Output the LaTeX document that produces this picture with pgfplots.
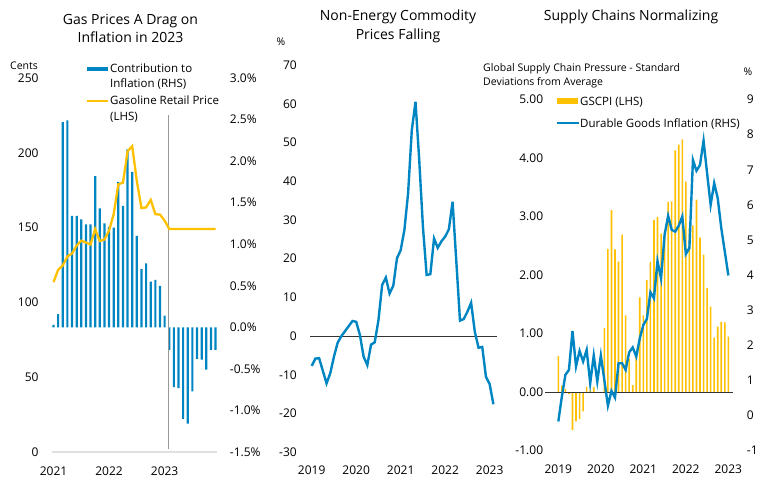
\documentclass[border=0pt]{standalone}
\usepackage{fontspec}
\setmainfont{Open Sans}
\usepackage{pgfplots}
\pgfplotsset{compat=1.18}
\definecolor{cblue}{RGB}{0,133,195}
\definecolor{cgold}{RGB}{255,192,0}
\pgfplotsset{mybase/.style={scale only axis, anchor=south west, clip=false,
  axis line style={draw=none}, tick style={draw=none}, major tick length=0pt,
  every tick label/.append style={font=\fontsize{12}{14}\selectfont, inner sep=0pt, text=black}}}
\begin{document}
\begin{tikzpicture}[x=1pt,y=1pt]
\path[use as bounding box] (0,0) rectangle (767,482);

% ---------------- Panel 1 : bars (RHS) ----------------
\begin{axis}[mybase, at={(51.7pt,30pt)}, width=165pt, height=374pt,
  xmin=-0.39, xmax=35.25, ymin=-1.5, ymax=3.0, xtick=\empty,
  ytick={-1.5,-1,-0.5,0,0.5,1,1.5,2,2.5,3},
  yticklabels={-1.5\%,-1.0\%,-0.5\%,0.0\%,0.5\%,1.0\%,1.5\%,2.0\%,2.5\%,3.0\%},
  yticklabel pos=right, yticklabel style={anchor=west, xshift=13pt}]
\addplot[ybar, bar width=2.2pt, fill=cblue, draw=none] coordinates {
(0,0.03) (1,0.16) (2,2.47) (3,2.49) (4,1.34) (5,1.34) (6,1.30) (7,1.24) (8,1.24)
(9,1.82) (10,1.43) (11,1.25) (12,1.21) (13,1.20) (14,1.75) (15,1.46) (16,2.14)
(17,1.87) (18,1.10) (19,0.70) (20,0.77) (21,0.55) (22,0.57) (23,0.50) (24,0.14)
(25,-0.27) (26,-0.72) (27,-0.73) (28,-1.10) (29,-1.16) (30,-0.77) (31,-0.38)
(32,-0.39) (33,-0.51) (34,-0.27) (35,-0.27)};
\end{axis}
% ---------------- Panel 1 : line (LHS) ----------------
\begin{axis}[mybase, at={(51.7pt,30pt)}, width=165pt, height=374pt,
  xmin=-0.39, xmax=35.25, ymin=0, ymax=250,
  xtick={0,12,24}, xticklabels={2021,2022,2023},
  ytick={0,50,100,150,200,250}, yticklabels={0,50,100,150,200,250},
  yticklabel style={anchor=east, xshift=-13pt},
  xticklabel style={anchor=center, yshift=-19pt}]
\draw[black!12, line width=1.5pt] (rel axis cs:0,0) -- (rel axis cs:1,0);
\draw[black!40, line width=0.9pt] (axis cs:24.8,2) -- (axis cs:24.8,225);
\addplot[cgold, line width=2.3pt] coordinates {
(0,113.5) (1,121.8) (2,124.7) (3,130.7) (4,132.7) (5,138) (6,141.3) (7,140)
(8,138.7) (9,149) (10,141) (11,142) (12,148) (13,159) (14,179) (15,180)
(16,201) (17,204.5) (18,181) (19,163) (20,163.5) (21,168.5) (22,159) (23,158.7)
(24,154.7) (25,149) (35,149)};
\end{axis}

% ---------------- Panel 2 ----------------
\begin{axis}[mybase, at={(310pt,29.7pt)}, width=186.7pt, height=387.3pt,
  xmin=-0.46, xmax=49.9, ymin=-30, ymax=70,
  xtick={0,12,24,36,48}, xticklabels={2019,2020,2021,2022,2023},
  ytick={-30,-20,-10,0,10,20,30,40,50,60,70},
  yticklabels={-30,-20,-10,0,10,20,30,40,50,60,70},
  yticklabel style={anchor=east, xshift=-13pt},
  xticklabel style={anchor=center, yshift=-17.7pt}]
\draw[black!80, line width=0.8pt] (axis cs:-0.46,0) -- (axis cs:49.9,0);
\addplot[cblue, line width=2.4pt] coordinates {
(0,-7.7) (1,-5.8) (2,-5.7) (4,-12.2) (5,-9.6) (6,-5.3) (7,-1.7) (8,0) (9,1.3)
(10,2.6) (11,3.9) (12,3.7) (13,0.3) (14,-5.3) (15,-7.5) (16,-2.2) (17,-1.6)
(18,4.1) (19,13.2) (20,15.1) (21,11.0) (22,13.0) (23,20.1) (24,22.2) (25,27.4)
(26,36.9) (27,53.2) (28,60.5) (29,45.5) (30,28.2) (31,15.8) (32,16.0) (33,25.2)
(34,22.8) (35,24.5) (36,25.7) (37,27.6) (38,34.7) (40,4.0) (41,4.4) (42,6.3)
(43,8.6) (44,1.1) (45,-3.0) (46,-2.8) (47,-10.5) (48,-12.4) (49,-17.6)};
\end{axis}

% ---------------- Panel 3 : bars (LHS) ----------------
\begin{axis}[mybase, at={(545pt,31.4pt)}, width=188.3pt, height=351pt,
  xmin=-3.76, xmax=49.4, ymin=-1, ymax=5,
  xtick={0,12,24,36,48}, xticklabels={2019,2020,2021,2022,2023},
  ytick={-1,0,1,2,3,4,5}, yticklabels={-1.00,0.00,1.00,2.00,3.00,4.00,5.00},
  yticklabel style={anchor=east, xshift=-1.7pt},
  xticklabel style={anchor=center, yshift=-18.5pt}]
\addplot[ybar, bar width=1.6pt, fill=cgold, draw=none] coordinates {
(0,0.62) (1,0.11) (2,0.05) (3,-0.03) (4,-0.65) (5,-0.50) (6,-0.46) (7,-0.33)
(8,0.09) (9,0.03) (10,0.09) (11,0.0) (12,0.0) (13,1.10) (14,2.45) (15,3.11)
(16,2.44) (17,2.23) (18,2.69) (19,1.31) (20,0.57) (21,0.12) (22,0.65) (23,1.62)
(24,1.31) (25,1.92) (26,2.22) (27,2.94) (28,2.99) (29,2.71) (30,2.75) (31,3.25)
(32,3.26) (33,4.13) (34,4.23) (35,4.32) (36,3.60) (37,2.80) (38,2.85) (39,3.29)
(40,2.64) (41,2.35) (42,1.78) (43,1.46) (44,0.93) (45,1.12) (46,1.20) (47,1.19)
(48,0.95)};
\draw[black!80, line width=0.8pt] (axis cs:-3.76,0) -- (axis cs:49.4,0);
\end{axis}
% ---------------- Panel 3 : line (RHS) ----------------
\begin{axis}[mybase, at={(545pt,31.4pt)}, width=188.3pt, height=351pt,
  xmin=-3.76, xmax=49.4, ymin=-1, ymax=9, xtick=\empty,
  ytick={-1,0,1,2,3,4,5,6,7,8,9}, yticklabels={-1,0,1,2,3,4,5,6,7,8,9},
  yticklabel pos=right, yticklabel style={anchor=west, xshift=13.4pt}]
\addplot[cblue, line width=2.4pt] coordinates {
(0,-0.17) (1,0.54) (2,1.16) (3,1.30) (4,2.41) (5,1.40) (6,1.84) (7,1.54) (8,1.87)
(9,0.92) (10,1.71) (11,0.97) (12,1.71) (13,1.0) (14,0.28) (15,0.70) (16,0.51)
(17,1.49) (18,1.49) (19,1.30) (20,1.80) (21,1.94) (22,1.68) (23,2.20) (24,2.58)
(25,2.75) (26,3.51) (27,3.34) (28,4.40) (29,3.90) (30,5.15) (31,5.69) (32,5.29)
(33,5.24) (34,5.41) (35,5.67) (36,4.60) (37,4.77) (38,7.28) (39,6.97) (40,7.14)
(41,7.83) (42,6.90) (43,6.00) (44,6.62) (45,6.19) (46,5.34) (47,4.67) (48,3.99)};
\end{axis}

% ---------------- Titles and annotations ----------------
\begin{scope}[every node/.style={inner sep=0pt, text=black}]
\node[anchor=base, font=\fontsize{14}{17}\selectfont] at (130.5,457) {Gas Prices A Drag on};
\node[anchor=base, font=\fontsize{14}{17}\selectfont] at (130.5,439) {Inflation in 2023};
\node[anchor=base, font=\fontsize{14}{17}\selectfont] at (398,461) {Non-Energy Commodity};
\node[anchor=base, font=\fontsize{14}{17}\selectfont] at (398,442) {Prices Falling};
\node[anchor=base, font=\fontsize{14}{17}\selectfont] at (631,461) {Supply Chains Normalizing};

\node[anchor=base east, font=\fontsize{10.5}{12}\selectfont] at (38,412) {Cents};
\node[anchor=base, font=\fontsize{10.5}{12}\selectfont] at (281,436) {\%};
\node[anchor=base, font=\fontsize{10.5}{12}\selectfont] at (748,406) {\%};
\node[anchor=base west, font=\fontsize{10.5}{12}\selectfont] at (483,410) {Global Supply Chain Pressure - Standard};
\node[anchor=base west, font=\fontsize{10.5}{12}\selectfont] at (483,396) {Deviations from Average};

% legend panel 1
\fill[cblue] (87.3,410.7) rectangle (108.3,415.3);
\node[anchor=base west, font=\fontsize{11.5}{13}\selectfont] at (110,409) {Contribution to};
\node[anchor=base west, font=\fontsize{11.5}{13}\selectfont] at (110,394) {Inflation (RHS)};
\draw[cgold, line width=2.3pt] (87,381) -- (108,381);
\node[anchor=base west, font=\fontsize{11.5}{13}\selectfont] at (110,377) {Gasoline Retail Price};
\node[anchor=base west, font=\fontsize{11.5}{13}\selectfont] at (110,361) {(LHS)};

% legend panel 3
\fill[cgold] (557.3,377.7) rectangle (578.3,383.7);
\node[anchor=base west, font=\fontsize{11.5}{13}\selectfont] at (580,376) {GSCPI (LHS)};
\draw[cblue, line width=2.4pt] (556.7,358.7) -- (579,358.7);
\node[anchor=base west, font=\fontsize{11.5}{13}\selectfont] at (580,354.5) {Durable Goods Inflation (RHS)};
\end{scope}
\end{tikzpicture}
\end{document}
